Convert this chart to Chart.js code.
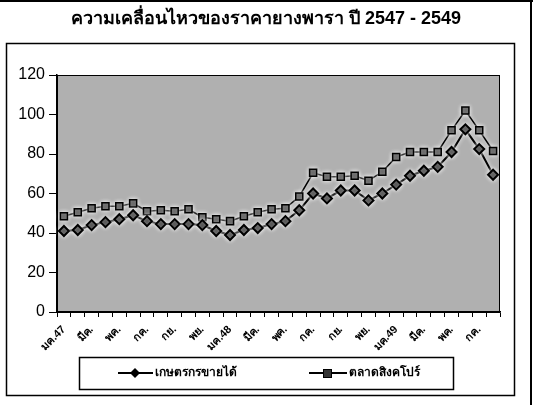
<!DOCTYPE html>
<html><head><meta charset="utf-8">
<script src="https://cdn.jsdelivr.net/npm/chart.js@4.4.0/dist/chart.umd.min.js"></script>
<style>html,body{margin:0;padding:0;background:#fff}#wrap{position:relative;width:533px;height:405px}</style>
</head><body><div id="wrap"><canvas id="c" width="533" height="405"></canvas></div>
<script>
const titleText = 'ความเคลื่อนไหวของราคายางพารา ปี 2547 - 2549';
const seriesNames = ['เกษตรกรขายได้', 'ตลาดสิงคโปร์'];
const categories = ['มค.47','กพ.','มีค.','เมย.','พค.','มิย.','กค.','สค.','กย.','ตค.','พย.','ธค.',
  'มค.48','กพ.','มีค.','เมย.','พค.','มิย.','กค.','สค.','กย.','ตค.','พย.','ธค.',
  'มค.49','กพ.','มีค.','เมย.','พค.','มิย.','กค.','สค.'];
const farmPrice = [41, 41.5, 44, 45.5, 47, 49, 46, 44.5, 44.5, 44.5, 44, 41,
  39, 41.5, 42.5, 44.5, 46, 51.5, 60, 57.5, 61.5, 61.5, 56.5, 60,
  64.5, 69, 71.5, 73.5, 81, 92.5, 82.5, 69.5];
const singaporePrice = [48.5, 50.5, 52.5, 53.5, 53.5, 55, 51, 51.5, 51, 52, 48, 47,
  46, 48.5, 50.5, 52, 52.5, 58.5, 70.5, 68.5, 68.5, 69, 66.5, 71,
  78.5, 81, 81, 81, 92, 102, 92, 81.5];
const yMin = 0, yMax = 120, yStep = 20;

const framePlugin = {
  id: 'frame',
  beforeDraw(chart) {
    const ctx = chart.ctx, a = chart.chartArea;
    ctx.save();
    ctx.fillStyle = '#fff';
    ctx.fillRect(0, 0, chart.width, chart.height);
    ctx.fillStyle = '#b0b0b0';
    ctx.fillRect(a.left, a.top, a.right - a.left, a.bottom - a.top);
    ctx.strokeStyle = '#000';
    ctx.lineWidth = 2;
    ctx.beginPath(); ctx.moveTo(0, 1); ctx.lineTo(533, 1); ctx.stroke();
    ctx.beginPath(); ctx.moveTo(531, 0); ctx.lineTo(531, 405); ctx.stroke();
    ctx.lineWidth = 1.5;
    ctx.strokeRect(6.5, 43.5, 508, 352);
    ctx.fillStyle = '#000';
    ctx.font = 'bold 18px Arial, sans-serif';
    ctx.textAlign = 'center';
    ctx.textBaseline = 'middle';
    ctx.fillText(titleText, 266, 19);
    ctx.restore();
  },
  beforeDatasetsDraw(chart) {
    const ctx = chart.ctx;
    ctx.save();
    ctx.shadowColor = 'rgba(255,255,255,0.95)';
    ctx.shadowBlur = 4;
  },
  afterDatasetsDraw(chart) {
    chart.ctx.restore();
  },
  afterDraw(chart) {
    const ctx = chart.ctx, a = chart.chartArea;
    ctx.save();
    ctx.strokeStyle = '#000';
    ctx.lineWidth = 1;
    ctx.strokeRect(a.left + 0.5, a.top + 0.5, a.right - a.left - 1, a.bottom - a.top);
    // legend
    ctx.lineWidth = 1.5;
    ctx.strokeRect(79.5, 357.5, 374, 32);
    const ly = 373;
    ctx.lineWidth = 2;
    ctx.beginPath(); ctx.moveTo(118, ly); ctx.lineTo(153, ly); ctx.stroke();
    ctx.fillStyle = '#000';
    ctx.beginPath(); ctx.moveTo(135, ly - 5); ctx.lineTo(140, ly); ctx.lineTo(135, ly + 5); ctx.lineTo(130, ly); ctx.closePath(); ctx.fill();
    ctx.beginPath(); ctx.moveTo(309, ly); ctx.lineTo(347, ly); ctx.stroke();
    ctx.fillStyle = '#333';
    ctx.fillRect(323, ly - 4, 9, 9);
    ctx.lineWidth = 1;
    ctx.strokeRect(323.5, ly - 3.5, 8, 8);
    ctx.fillStyle = '#000';
    ctx.font = 'bold 12px Arial, sans-serif';
    ctx.textAlign = 'left';
    ctx.textBaseline = 'middle';
    ctx.fillText(seriesNames[0], 155, ly);
    ctx.fillText(seriesNames[1], 349, ly);
    ctx.restore();
  }
};

new Chart(document.getElementById('c'), {
  type: 'line',
  data: {
    labels: categories,
    datasets: [
      { label: seriesNames[0], data: farmPrice, borderColor: '#000', borderWidth: 2,
        pointStyle: 'rectRot', pointRadius: 5, pointBackgroundColor: '#000', pointBorderColor: '#000', tension: 0 },
      { label: seriesNames[1], data: singaporePrice, borderColor: '#000', borderWidth: 1.5,
        pointStyle: 'rect', pointRadius: 5, pointBackgroundColor: '#333', pointBorderColor: '#000', tension: 0 }
    ]
  },
  options: {
    responsive: false,
    animation: false,
    layout: { padding: { top: 75, right: 33, bottom: 0, left: 0 } },
    plugins: { legend: { display: false }, title: { display: false }, tooltip: { enabled: false } },
    scales: {
      x: {
        offset: true,
        grid: { offset: true, drawOnChartArea: false, tickLength: 5, color: '#000' },
        border: { color: '#000', width: 1.5 },
        ticks: {
          autoSkip: false, maxRotation: 45, minRotation: 45, color: '#000', padding: 6,
          font: { family: 'Arial, sans-serif', size: 11, weight: 'bold' },
          callback: function (v, i) { return i % 2 === 0 ? this.getLabelForValue(v) : ''; }
        },
        afterFit(s) { s.height = 93; }
      },
      y: {
        min: yMin, max: yMax,
        grid: { drawOnChartArea: false, tickLength: 8, color: '#000' },
        border: { color: '#000', width: 1.5 },
        ticks: { stepSize: yStep, color: '#000', padding: 4, font: { family: 'Arial, sans-serif', size: 16 } },
        afterFit(s) { s.width = 57; }
      }
    }
  },
  plugins: [framePlugin]
});
</script></body></html>
